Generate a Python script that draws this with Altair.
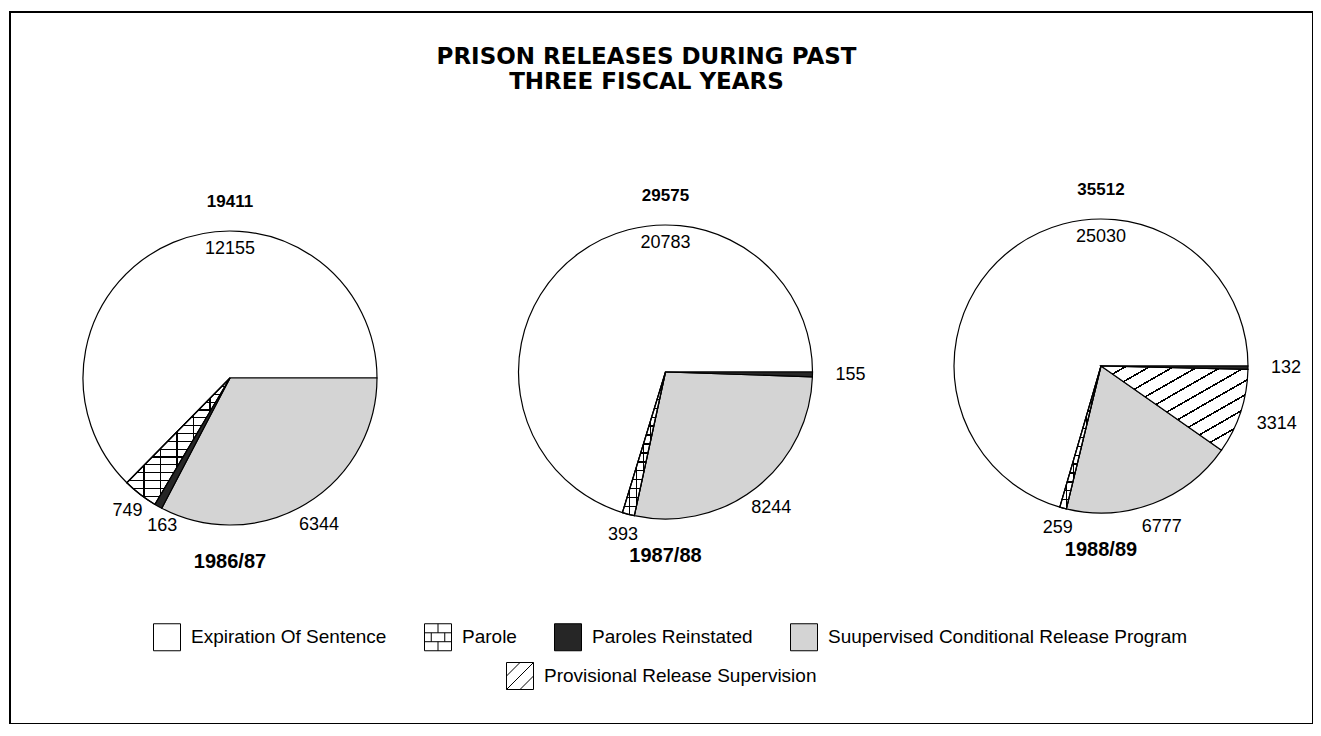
import math
import altair as alt
import pandas as pd

years = ["1986/87", "1987/88", "1988/89"]

EXP = "Expiration Of Sentence"
PAR = "Parole"
REI = "Paroles Reinstated"
SCR = "Suupervised Conditional Release Program"
PRS = "Provisional Release Supervision"

# slices in drawing order (counter-clockwise from 3 o'clock) and their counts
slices_8687 = [EXP, PAR, REI, SCR]
counts_8687 = [12155, 749, 163, 6344]
slices_8788 = [EXP, PAR, SCR, REI]
counts_8788 = [20783, 393, 8244, 155]
slices_8889 = [EXP, PAR, SCR, PRS, REI]
counts_8889 = [25030, 259, 6777, 3314, 132]

legend_row1 = [EXP, PAR, REI, SCR]
legend_row2 = [PRS]

rows = []
for yr, cats, vals in zip(years, [slices_8687, slices_8788, slices_8889],
                          [counts_8687, counts_8788, counts_8889]):
    for i, (c, v) in enumerate(zip(cats, vals)):
        rows.append({"year": yr, "category": c, "value": v, "seq": i})
df = pd.DataFrame(rows)

FONT = "Liberation Sans"
R = 147
GREY = "#d4d4d4"
DARK = "#262626"


def stripe_fill(period, lw, x2, y2, bg, fg):
    stops = [alt.GradientStop(color=bg, offset=0)]
    a = period
    while a + lw < 1:
        stops += [
            alt.GradientStop(color=bg, offset=round(a, 4)),
            alt.GradientStop(color=fg, offset=round(a, 4)),
            alt.GradientStop(color=fg, offset=round(a + lw, 4)),
            alt.GradientStop(color=bg, offset=round(a + lw, 4)),
        ]
        a += period
    stops.append(alt.GradientStop(color=bg, offset=1))
    return alt.LinearGradient(gradient="linear", stops=stops, x1=0, y1=0, x2=x2, y2=y2)


theta_scale = alt.Scale(domain=[0, 1], range=[2.5 * math.pi, 0.5 * math.pi])
x_enc = alt.X("year:N", scale=alt.Scale(type="point", domain=years, range=[220, 1091], padding=0), axis=None)
y_enc = alt.Y("year:N", scale=alt.Scale(type="point", domain=years, range=[366, 354], padding=0), axis=None)

base = (
    alt.Chart(df)
    .transform_joinaggregate(total="sum(value)", groupby=["year"])
    .transform_window(cum="sum(value)", sort=[alt.SortField("seq")], groupby=["year"], frame=[None, 0])
    .transform_calculate(
        start="(datum.cum - datum.value) / datum.total",
        stop="datum.cum / datum.total",
        mid="(datum.cum - datum.value / 2) / datum.total",
    )
)


def arc_layer(cat, fill):
    return base.transform_filter(alt.datum.category == cat).mark_arc(
        radius=R, fill=fill, stroke="black", strokeWidth=1.2
    ).encode(
        x=x_enc,
        y=y_enc,
        theta=alt.Theta("start:Q", stack=None, scale=theta_scale),
        theta2="stop:Q",
    )


arcs = [
    arc_layer(EXP, "white"),
    arc_layer(SCR, GREY),
    arc_layer(PRS, stripe_fill(0.082, 0.011, 1, 1, "white", "black")),
    arc_layer(PAR, stripe_fill(0.062, 0.010, 0, 1, "white", "black")),
    arc_layer(PAR, stripe_fill(0.16, 0.014, 1, 0, "rgba(0,0,0,0)", "black")),
    arc_layer(REI, DARK),
]

# label radius and alignment per category
label_style = {PAR: (168, "center"), REI: (170, "left"), SCR: (172, "center"), PRS: (185, "center")}
labels = []
for cat, (rad, al) in label_style.items():
    labels.append(
        base.transform_filter(alt.datum.category == cat)
        .mark_text(radius=rad, font=FONT, fontSize=18, color="black", align=al, baseline="middle")
        .encode(
            x=x_enc,
            y=y_enc,
            theta=alt.Theta("mid:Q", stack=None, scale=theta_scale),
            text=alt.Text("value:Q", format="d"),
        )
    )
labels.append(
    base.transform_filter(alt.datum.category == EXP)
    .mark_text(radius=129, font=FONT, fontSize=18, color="black", align="center", baseline="middle")
    .encode(x=x_enc, y=y_enc, theta=alt.value(0), text=alt.Text("value:Q", format="d"))
)

totals = (
    alt.Chart(df)
    .transform_aggregate(total="sum(value)", groupby=["year"])
    .mark_text(dy=-176, font=FONT, fontSize=17, fontWeight="bold", color="black", baseline="middle")
    .encode(x=x_enc, y=y_enc, text=alt.Text("total:Q", format="d"))
)
year_labels = (
    alt.Chart(df)
    .transform_aggregate(total="sum(value)", groupby=["year"])
    .mark_text(dy=184, font=FONT, fontSize=20, fontWeight="bold", color="black", baseline="middle")
    .encode(x=x_enc, y=y_enc, text="year:N")
)

SQUARE = "M-1,-1H1V1H-1Z"
BRICK = "M-1,-1H1V1H-1Z M-1,-0.33H1 M-1,0.33H1 M0,-1V-0.33 M-0.5,-0.33V0.33 M0.5,-0.33V0.33 M0,0.33V1"
HATCH = "M-1,-1H1V1H-1Z M-1,0L0,-1 M-1,1L1,-1 M0,1L1,0"


def legend(x, y):
    return alt.Legend(
        orient="none", legendX=x, legendY=y, direction="horizontal", title=None,
        symbolSize=729, symbolStrokeColor="black", symbolStrokeWidth=1, symbolOpacity=1,
        labelFont=FONT, labelFontSize=19, labelColor="black", labelOffset=10,
        labelLimit=600, columnPadding=35, padding=0,
    )


def legend_layer(cats, colors, shapes, x, y):
    lg = legend(x, y)
    return (
        base.transform_filter(alt.FieldOneOfPredicate(field="category", oneOf=cats))
        .mark_point(filled=True, strokeWidth=1, opacity=0)
        .encode(
            x=x_enc, y=y_enc,
            fill=alt.Fill("category:N", scale=alt.Scale(domain=cats, range=colors), legend=lg),
            shape=alt.Shape("category:N", scale=alt.Scale(domain=cats, range=shapes), legend=lg),
            stroke=alt.Stroke("category:N", scale=alt.Scale(domain=cats, range=["black"] * len(cats)), legend=lg),
        )
    )


leg1 = legend_layer(legend_row1, ["white", "white", DARK, GREY], [SQUARE, BRICK, SQUARE, SQUARE], 143, 611)
leg2 = legend_layer(legend_row2, ["white"], [HATCH], 496, 650)

chart = (
    alt.layer(*arcs, *labels, totals, year_labels, leg1, leg2)
    .resolve_scale(fill="independent", shape="independent", stroke="independent")
    .properties(
        width=1303,
        height=712,
        autosize=alt.AutoSizeParams(type="none"),
        padding={"left": 2, "top": 4, "right": 0, "bottom": 0},
        title=alt.TitleParams(
            text=["PRISON RELEASES DURING PAST", "THREE FISCAL YEARS"],
            font="DejaVu Sans", fontSize=23, fontWeight="bold", color="black",
            anchor="middle", dx=-15, dy=86, lineHeight=25,
        ),
        background="white",
    )
    .configure_view(stroke="black", strokeWidth=2)
)

chart.save("out.html", embed_options={"renderer": "svg", "actions": False})
